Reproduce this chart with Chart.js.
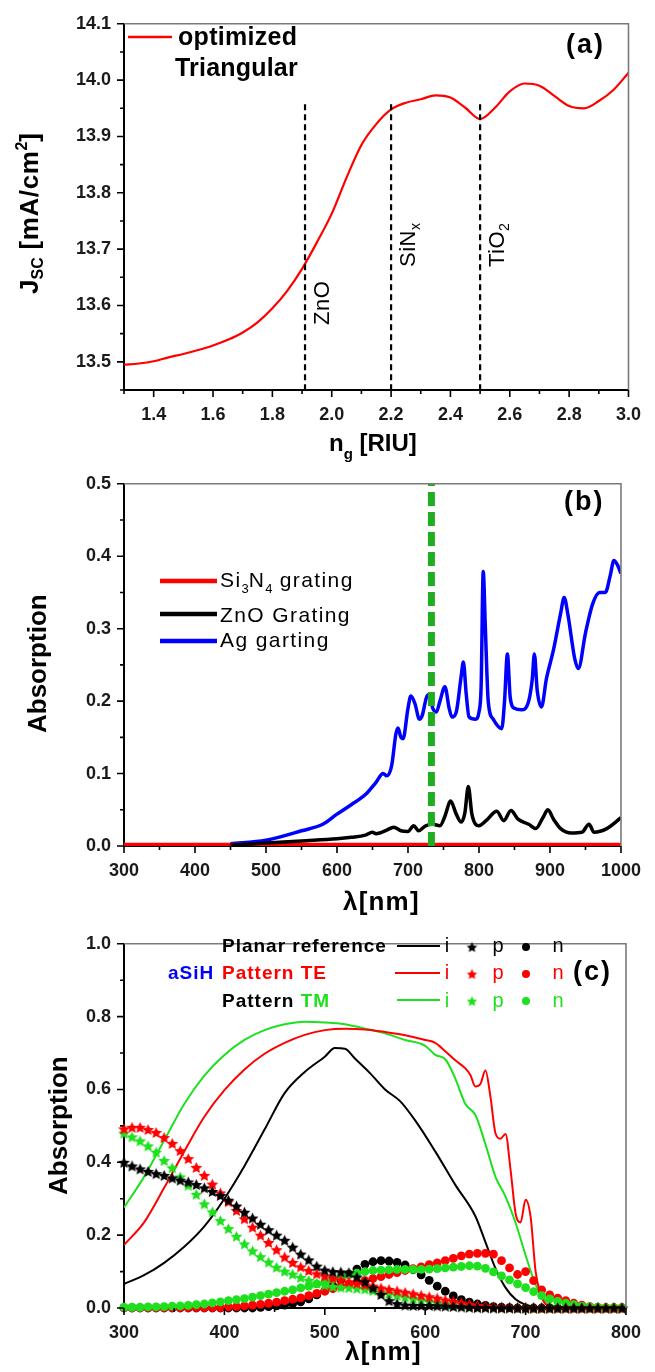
<!DOCTYPE html>
<html><head><meta charset="utf-8">
<script src="https://cdn.jsdelivr.net/npm/chart.js@4.4.0/dist/chart.umd.min.js"></script>
<style>
html,body{margin:0;padding:0;background:#fff;}
#wrap{position:relative;width:655px;height:1372px;overflow:hidden;background:#fff;}
canvas{position:absolute;left:0;}
</style></head><body>
<div id="wrap">
<canvas id="ca" width="655" height="470" style="top:0px"></canvas>
<canvas id="cb" width="655" height="470" style="top:460px"></canvas>
<canvas id="cc" width="655" height="452" style="top:920px"></canvas>
</div>
<script>
// ---------- Panel (a) data ----------
const ngX = [1.30,1.35,1.40,1.45,1.50,1.55,1.60,1.65,1.70,1.75,1.80,1.85,1.90,1.95,2.00,2.05,2.10,2.15,2.20,2.25,2.30,2.35,2.40,2.45,2.50,2.55,2.60,2.65,2.70,2.75,2.80,2.85,2.90,2.95,3.00];
const jscOpt = [13.495,13.497,13.501,13.508,13.514,13.521,13.529,13.539,13.552,13.570,13.595,13.626,13.665,13.712,13.763,13.827,13.885,13.922,13.948,13.960,13.966,13.973,13.969,13.951,13.931,13.951,13.980,13.994,13.990,13.972,13.954,13.950,13.963,13.983,14.013];
const matNames = ['ZnO','SiN','TiO'];
const matSubs = ['','x','2'];
const matIndex = [1.91,2.20,2.50];
const matTop = 13.957;

// ---------- Panel (b) data ----------
const siX = [300,1000];
const siY = [0.0015,0.0015];
const znoX = [450,500,550,600,620,640,650,655,660,670,680,690,700,708,715,725,735,745,752,760,768,775,780,785,790,800,810,825,835,845,855,870,880,890,897,905,915,930,945,955,962,980,1000];
const znoY = [0.001,0.004,0.007,0.010,0.012,0.015,0.019,0.017,0.018,0.022,0.026,0.021,0.020,0.028,0.021,0.028,0.030,0.028,0.041,0.062,0.044,0.033,0.045,0.082,0.044,0.028,0.035,0.048,0.035,0.049,0.037,0.030,0.024,0.039,0.050,0.037,0.024,0.018,0.019,0.030,0.019,0.024,0.039];
const agX = [450,500,550,580,600,620,640,655,665,670,677,683,686,690,693,700,704,710,716,720,726,730,735,740,745,752,758,762,768,775,778,782,786,795,800,803,806,809,813,820,832,836,840,844,850,860,870,875,878,882,888,895,905,915,920,925,935,940,950,960,970,978,985,990,995,1000];
const agY = [0.003,0.008,0.021,0.030,0.044,0.057,0.071,0.088,0.100,0.097,0.111,0.155,0.163,0.150,0.148,0.190,0.207,0.196,0.175,0.180,0.205,0.209,0.190,0.185,0.200,0.220,0.190,0.178,0.185,0.235,0.254,0.210,0.178,0.175,0.185,0.220,0.379,0.300,0.200,0.175,0.162,0.200,0.265,0.205,0.190,0.188,0.200,0.230,0.265,0.215,0.192,0.231,0.271,0.321,0.343,0.321,0.258,0.245,0.294,0.334,0.350,0.350,0.374,0.394,0.388,0.376];
const markWl = 733;
const legendB = ['Si|3|N|4| grating','ZnO Grating','Ag garting'];

// ---------- Panel (c) data ----------
const planarX = [300,320,340,360,380,400,420,440,460,480,500,510,520,530,545,560,575,590,610,630,650,660,670,680,690,700,710,720,800];
const planarI = [0.066,0.090,0.124,0.168,0.224,0.300,0.390,0.490,0.590,0.648,0.690,0.714,0.712,0.685,0.645,0.600,0.568,0.515,0.430,0.338,0.252,0.181,0.109,0.056,0.024,0.009,0.002,0.000,0.000];
const teX = [300,320,340,360,380,400,420,440,460,480,500,520,540,560,580,600,610,620,630,640,645,650,655,660,665,670,675,680,685,690,695,700,705,710,715,720,730,800];
const teI = [0.173,0.235,0.330,0.430,0.525,0.598,0.655,0.698,0.728,0.750,0.763,0.767,0.765,0.758,0.749,0.736,0.728,0.705,0.680,0.658,0.640,0.608,0.615,0.652,0.580,0.480,0.465,0.478,0.380,0.260,0.235,0.297,0.250,0.100,0.038,0.011,0.002,0.000];
const tmX = [300,320,340,360,380,400,420,440,460,480,500,520,540,560,580,600,610,620,630,640,650,660,670,680,690,700,710,720,730,750,800];
const tmI = [0.276,0.360,0.460,0.560,0.638,0.695,0.736,0.763,0.779,0.786,0.784,0.779,0.767,0.754,0.736,0.720,0.695,0.683,0.630,0.560,0.530,0.450,0.360,0.306,0.234,0.145,0.064,0.020,0.004,0.000,0.000];
const mx = [300,308,316,324,332,340,348,356,364,372,380,388,396,404,412,420,428,436,444,452,460,468,476,484,492,500,508,516,524,532,540,548,556,564,572,580,588,596,604,612,620,628,636,644,652,660,668,676,684,692,700,708,716,724,732,740,748,756,764,772,780,788,796];
const planarP = [0.400,0.390,0.382,0.375,0.369,0.364,0.357,0.351,0.346,0.339,0.330,0.320,0.309,0.296,0.280,0.263,0.247,0.230,0.215,0.200,0.186,0.167,0.148,0.132,0.115,0.104,0.100,0.099,0.097,0.085,0.072,0.055,0.037,0.020,0.012,0.008,0.007,0.007,0.007,0.006,0.005,0.004,0.003,0.002,0.001,0.001,0,0,0,0,0,0,0,0,0,0,0,0,0,0,0,0,0];
const teP = [0.492,0.496,0.496,0.490,0.482,0.468,0.452,0.432,0.410,0.386,0.364,0.340,0.316,0.292,0.268,0.245,0.222,0.200,0.180,0.160,0.140,0.125,0.113,0.103,0.094,0.088,0.082,0.077,0.072,0.068,0.064,0.060,0.055,0.051,0.047,0.043,0.039,0.035,0.031,0.027,0.022,0.018,0.014,0.010,0.007,0.005,0.003,0.002,0.002,0.001,0.001,0,0,0,0,0,0,0,0,0,0,0,0];
const tmP = [0.480,0.470,0.459,0.445,0.428,0.405,0.385,0.360,0.337,0.312,0.286,0.264,0.240,0.218,0.197,0.176,0.157,0.141,0.126,0.112,0.101,0.093,0.084,0.076,0.068,0.063,0.059,0.057,0.056,0.054,0.052,0.048,0.044,0.040,0.035,0.030,0.026,0.022,0.018,0.015,0.012,0.010,0.007,0.005,0.003,0.002,0.002,0.001,0.001,0,0,0,0,0,0,0,0,0,0,0,0,0,0];
const planarN = [0,0,0,0,0,0,0,0,0,0,0,0,0,0,0,0,0,0.002,0.004,0.006,0.008,0.012,0.017,0.025,0.036,0.047,0.061,0.077,0.093,0.107,0.120,0.127,0.130,0.129,0.125,0.118,0.105,0.091,0.076,0.060,0.046,0.033,0.023,0.016,0.011,0.007,0.004,0.002,0.001,0,0,0,0,0,0,0,0,0,0,0,0,0,0];
const teN = [0.001,0.001,0.001,0.001,0.001,0.001,0.001,0.001,0.001,0.001,0.001,0.001,0.001,0.003,0.004,0.006,0.008,0.010,0.013,0.016,0.020,0.024,0.028,0.034,0.040,0.046,0.053,0.059,0.065,0.070,0.075,0.081,0.086,0.092,0.097,0.103,0.108,0.113,0.119,0.124,0.130,0.136,0.143,0.148,0.150,0.150,0.148,0.130,0.110,0.092,0.100,0.075,0.050,0.036,0.027,0.020,0.013,0.008,0.004,0.002,0.001,0.001,0.001];
const tmN = [0.002,0.002,0.002,0.003,0.003,0.004,0.005,0.006,0.007,0.009,0.011,0.014,0.017,0.020,0.023,0.026,0.030,0.034,0.038,0.042,0.046,0.050,0.055,0.060,0.066,0.072,0.079,0.085,0.091,0.096,0.100,0.103,0.104,0.105,0.106,0.106,0.106,0.106,0.107,0.108,0.110,0.112,0.114,0.116,0.115,0.109,0.099,0.088,0.077,0.066,0.056,0.045,0.034,0.025,0.018,0.013,0.009,0.005,0.003,0.002,0.001,0.001,0.001];

// ---------- helpers ----------
const FONT = '"Liberation Sans", Arial, Helvetica, sans-serif';
const RED = '#ff0000', GRN = '#1ee01e', BLK = '#000000', BLU = '#0000ff', DGRN = '#20ad20';
Chart.defaults.font.family = FONT;

function pts(xs, ys){ return xs.map((x,i)=>({x:x, y:ys[i]})); }

function rich(ctx, x, y, parts, o){
  o = o || {};
  ctx.save();
  ctx.translate(x, y);
  if (o.rot) ctx.rotate(o.rot);
  ctx.scale(o.sx || 1, o.sy || 1);
  ctx.textBaseline = 'alphabetic'; ctx.textAlign = 'left';
  let cx = 0;
  for (const p of parts){
    ctx.font = (p.w || 'normal') + ' ' + p.s + 'px ' + FONT;
    ctx.fillStyle = p.c || '#000';
    ctx.letterSpacing = ((p.ls !== undefined ? p.ls : (o.ls || 0))) + 'px';
    ctx.fillText(p.t, cx, p.dy || 0);
    cx += ctx.measureText(p.t).width;
  }
  ctx.restore();
}
function ctext(ctx, t, x, y, s, w, c){
  ctx.save(); ctx.font = w + ' ' + s + 'px ' + FONT; ctx.fillStyle = c;
  ctx.textAlign = 'center'; ctx.textBaseline = 'alphabetic'; ctx.fillText(t, x, y); ctx.restore();
}
function seg(ctx, x1, y1, x2, y2, c, w){
  ctx.save(); ctx.strokeStyle = c; ctx.lineWidth = w; ctx.lineCap = 'butt';
  ctx.beginPath(); ctx.moveTo(x1,y1); ctx.lineTo(x2,y2); ctx.stroke(); ctx.restore();
}
function starImg(color, R){
  const s = Math.ceil(2*R + 2);
  const c = document.createElement('canvas'); c.width = s; c.height = s;
  const g = c.getContext('2d'); g.fillStyle = color; g.beginPath();
  for (let i = 0; i < 10; i++){
    const r = (i % 2) ? R*0.48 : R; const a = -Math.PI/2 + i*Math.PI/5;
    g.lineTo(s/2 + r*Math.cos(a), s/2 + 0.6 + r*Math.sin(a));
  }
  g.closePath(); g.fill(); return c;
}

function scales(xmin, xmax, xstep, xlab, ymin, ymax, ystep, ylab, xh){
  const tf = {size:18, weight:'bold', family:FONT};
  const grid = {display:true, drawOnChartArea:false, drawTicks:false, color:'rgba(0,0,0,0)'};
  return {
    x:{type:'linear', min:xmin, max:xmax,
       ticks:{stepSize:xstep, autoSkip:false, maxRotation:0, minRotation:0, padding:14, font:tf, color:'#1a1a1a', callback:xlab},
       grid:grid, border:{display:true, color:'#000', width:2},
       afterFit:function(s){ s.height = xh; }},
    y:{type:'linear', min:ymin, max:ymax,
       ticks:{stepSize:ystep, autoSkip:false, padding:13, font:tf, color:'#1a1a1a', callback:ylab},
       grid:grid, border:{display:true, color:'#000', width:2},
       afterFit:function(s){ s.width = 124; }}
  };
}

function deco(extra){
  return {id:'deco', afterDraw:function(chart){
    const ctx = chart.ctx, a = chart.chartArea, x = chart.scales.x, y = chart.scales.y;
    ctx.save();
    ctx.strokeStyle = '#7a7a7a'; ctx.lineWidth = 1.6;
    ctx.beginPath(); ctx.moveTo(a.left, a.top); ctx.lineTo(a.right, a.top); ctx.lineTo(a.right, a.bottom); ctx.stroke();
    ctx.strokeStyle = '#000'; ctx.lineWidth = 1.6; ctx.beginPath();
    x.ticks.forEach(function(t, i){ const p = x.getPixelForTick(i); const L = t.label ? 7 : 4; ctx.moveTo(p, a.bottom); ctx.lineTo(p, a.bottom + L); });
    y.ticks.forEach(function(t, i){ const p = y.getPixelForTick(i); const L = t.label ? 7 : 4; ctx.moveTo(a.left, p); ctx.lineTo(a.left - L, p); });
    ctx.stroke(); ctx.restore();
    extra(chart, ctx, a, x, y);
  }};
}

const baseOpts = {responsive:false, animation:false, devicePixelRatio:1,
  plugins:{legend:{display:false}, tooltip:{enabled:false}}};

// ---------- Chart (a) ----------
const dsA = [{label:'optimized Triangular', data:pts(ngX, jscOpt), showLine:true, borderColor:RED, borderWidth:2.2,
              pointRadius:0, cubicInterpolationMode:'monotone', order:1}];
matIndex.forEach(function(v, i){
  dsA.push({label:matNames[i] + matSubs[i], data:[{x:v, y:matTop},{x:v, y:13.45}], showLine:true, borderColor:'#000',
            borderWidth:2.2, borderDash:[6,4], pointRadius:0, tension:0, order:0});
});
new Chart(document.getElementById('ca'), {
  type:'scatter',
  data:{datasets:dsA},
  options:Object.assign({}, baseOpts, {
    layout:{padding:{left:0, right:23, top:16, bottom:0}},
    scales:scales(1.3, 3.0, 0.1, function(v){ return (Math.round(v*10) % 2 === 0) ? v.toFixed(1) : ''; },
                  13.45, 14.1, 0.05, function(v){ return (Math.round(v*100) % 10 === 0) ? v.toFixed(1) : ''; }, 80)
  }),
  plugins:[deco(function(chart, ctx, a, x, y){
    rich(ctx, 38, 294, [{t:'J', s:26, w:'bold'}, {t:'SC', s:16, w:'bold', dy:5}, {t:' [mA/cm', s:26, w:'bold', ls:0.6},
                        {t:'2', s:16, w:'bold', dy:-11}, {t:']', s:26, w:'bold'}], {rot:-Math.PI/2});
    rich(ctx, 329, 451, [{t:'n', s:24, w:'bold'}, {t:'g', s:15, w:'bold', dy:8}, {t:' [RIU]', s:24, w:'bold'}]);
    seg(ctx, 128, 37, 172, 37, RED, 2.5);
    rich(ctx, 178, 45, [{t:'optimized', s:25, w:'bold', ls:0.3}]);
    rich(ctx, 175, 76, [{t:'Triangular', s:25, w:'bold', ls:0.2}]);
    rich(ctx, 566, 53, [{t:'(a)', s:27, w:'bold', ls:2}]);
    matIndex.forEach(function(v, i){
      const px = x.getPixelForValue(v) + 24;
      const py = (i === 0) ? 325 : 267;
      const parts = [{t:matNames[i], s:22, w:'normal', ls:0.5}];
      if (matSubs[i]) parts.push({t:matSubs[i], s:14, w:'normal', dy:5});
      rich(ctx, px, py, parts, {rot:-Math.PI/2});
    });
  })]
});

// ---------- Chart (b) ----------
new Chart(document.getElementById('cb'), {
  type:'scatter',
  data:{datasets:[
    {label:'marker', data:[{x:markWl, y:0},{x:markWl, y:0.5}], showLine:true, borderColor:DGRN, borderWidth:7, borderDash:[14,6], pointRadius:0, tension:0, order:0},
    {label:'ZnO Grating', data:pts(znoX, znoY), showLine:true, borderColor:BLK, borderWidth:3.5, pointRadius:0, cubicInterpolationMode:'monotone', order:2},
    {label:'Si3N4 grating', data:pts(siX, siY), showLine:true, borderColor:RED, borderWidth:4.5, pointRadius:0, tension:0, order:3},
    {label:'Ag garting', data:pts(agX, agY), showLine:true, borderColor:BLU, borderWidth:3.5, pointRadius:0, cubicInterpolationMode:'monotone', order:4}
  ]},
  options:Object.assign({}, baseOpts, {
    layout:{padding:{left:0, right:23, top:13, bottom:0}},
    scales:scales(300, 1000, 50, function(v){ return (Math.round(v) % 100 === 0) ? String(Math.round(v)) : ''; },
                  0, 0.5, 0.05, function(v){ return (Math.round(v*100) % 10 === 0) ? v.toFixed(1) : ''; }, 84)
  }),
  plugins:[deco(function(chart, ctx){
    rich(ctx, 46, 273, [{t:'Absorption', s:26, w:'bold'}], {rot:-Math.PI/2});
    rich(ctx, 343, 450, [{t:'λ[nm]', s:26, w:'bold', ls:1.2}]);
    rich(ctx, 564, 50, [{t:'(b)', s:27, w:'bold', ls:2}]);
    const cols = [RED, BLK, BLU], ly = [121, 154, 181], ty = [127, 162, 187];
    legendB.forEach(function(lab, i){
      seg(ctx, 160, ly[i], 217, ly[i], cols[i], 4.5);
      const bits = lab.split('|');
      const parts = bits.map(function(b, k){ return (k % 2) ? {t:b, s:13, dy:6, ls:0} : {t:b, s:21, ls:1.4}; });
      rich(ctx, 220, ty[i], parts);
    });
  })]
});

// ---------- Chart (c) ----------
const starB = starImg(BLK, 6.2), starR = starImg(RED, 6.2), starG = starImg(GRN, 6.2);
const lstB = starImg(BLK, 5.5), lstR = starImg(RED, 5.5), lstG = starImg(GRN, 5.5);
function lineDS(label, xs, ys, color){
  return {label:label, data:pts(xs, ys), showLine:true, borderColor:color, borderWidth:2, pointRadius:0, cubicInterpolationMode:'monotone', order:20};
}
function markDS(label, ys, color, style, r, order){
  return {label:label, data:pts(mx, ys), showLine:false, pointStyle:style, pointRadius:r, pointBackgroundColor:color,
          pointBorderColor:color, pointBorderWidth:0, order:order, clip:false};
}
new Chart(document.getElementById('cc'), {
  type:'scatter',
  data:{datasets:[
    lineDS('Planar i', planarX, planarI, BLK),
    lineDS('TE i', teX, teI, RED),
    lineDS('TM i', tmX, tmI, GRN),
    markDS('Planar n', planarN, BLK, 'circle', 4.4, 12),
    markDS('TE n', teN, RED, 'circle', 4.4, 11),
    markDS('TM n', tmN, GRN, 'circle', 4.4, 10),
    markDS('TM p', tmP, GRN, starG, 6, 6),
    markDS('TE p', teP, RED, starR, 6, 5),
    markDS('Planar p', planarP, BLK, starB, 6, 4)
  ]},
  options:Object.assign({}, baseOpts, {
    layout:{padding:{left:0, right:23, top:15, bottom:0}},
    scales:scales(300, 800, 50, function(v){ return (Math.round(v) % 100 === 0) ? String(Math.round(v)) : ''; },
                  0, 1.0, 0.1, function(v){ return (Math.round(v*10) % 2 === 0) ? v.toFixed(1) : ''; }, 64)
  }),
  plugins:[deco(function(chart, ctx){
    rich(ctx, 67, 275, [{t:'Absorption', s:26, w:'bold'}], {rot:-Math.PI/2});
    rich(ctx, 345, 440, [{t:'λ[nm]', s:26, w:'bold', ls:1.2}]);
    rich(ctx, 573, 60, [{t:'(c)', s:27, w:'bold', ls:2}]);
    rich(ctx, 222, 32, [{t:'Planar reference', s:19, w:'bold', ls:1}]);
    rich(ctx, 168, 59, [{t:'aSiH', s:19, w:'bold', ls:1, c:BLU}]);
    rich(ctx, 222, 59, [{t:'Pattern TE', s:19, w:'bold', ls:1, c:RED}]);
    rich(ctx, 222, 87, [{t:'Pattern ', s:19, w:'bold', ls:1, c:BLK}, {t:'TM', s:19, w:'bold', ls:1, c:GRN}]);
    const rows = [{ly:26, ty:32, c:BLK, st:lstB, x1:397},{ly:53, ty:59, c:RED, st:lstR, x1:395},{ly:80, ty:87, c:GRN, st:lstG, x1:397}];
    rows.forEach(function(r){
      seg(ctx, r.x1, r.ly, 440, r.ly, r.c, 2);
      ctext(ctx, 'i', 447, r.ty, 20, 'normal', r.c);
      ctx.drawImage(r.st, 472 - r.st.width/2, r.ly + 1 - r.st.height/2);
      ctext(ctx, 'p', 498, r.ty, 20, 'normal', r.c);
      ctx.save(); ctx.fillStyle = r.c; ctx.beginPath(); ctx.arc(526, r.ly + 1, 4, 0, Math.PI*2); ctx.fill(); ctx.restore();
      ctext(ctx, 'n', 558, r.ty, 20, 'normal', r.c);
    });
  })]
});
</script>
</body></html>
